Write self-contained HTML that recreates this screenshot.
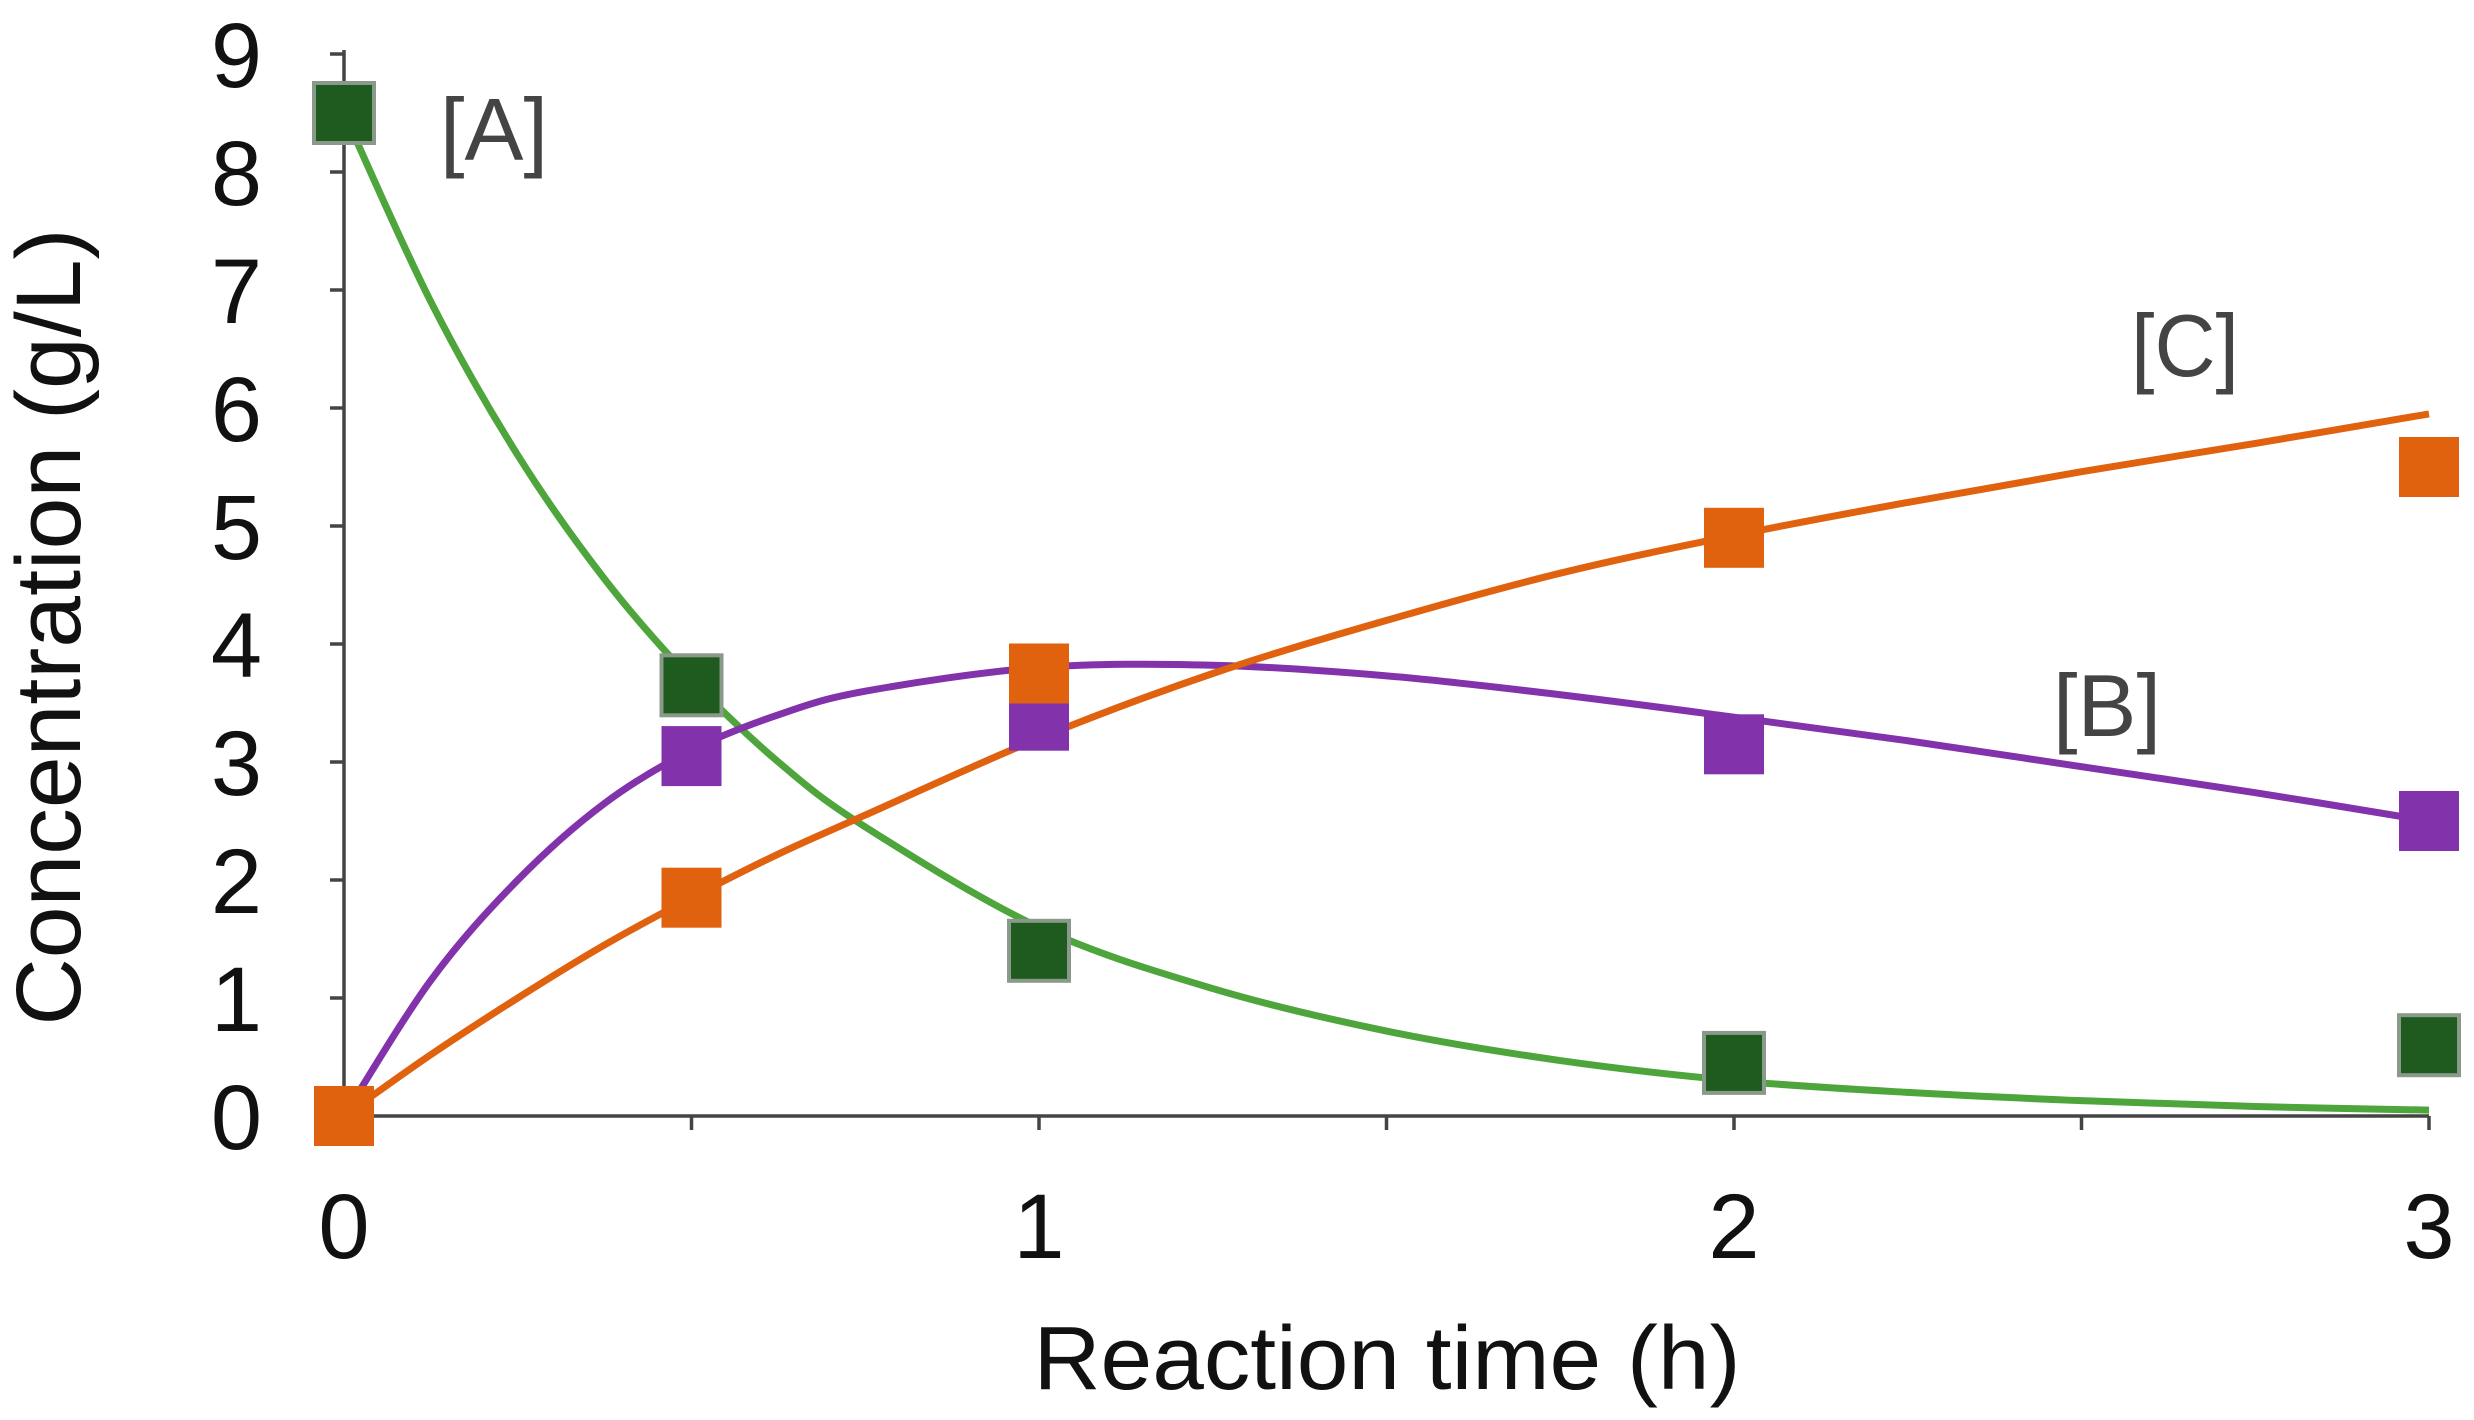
<!DOCTYPE html>
<html><head><meta charset="utf-8"><style>
html,body{margin:0;padding:0;background:#fff;}
svg{display:block;font-family:"Liberation Sans",sans-serif;}
</style></head><body>
<svg id="chart" width="2474" height="1420" viewBox="0 0 2474 1420" xmlns="http://www.w3.org/2000/svg">
<g id="axes"></g>
<g id="curves"></g>
<g id="markers"></g>
<text transform="translate(80,627) rotate(-90)" text-anchor="middle" font-size="92" textLength="797" lengthAdjust="spacingAndGlyphs" fill="#111">Concentration (g/L)</text>
<text x="1387" y="1389" text-anchor="middle" font-size="90" textLength="707" lengthAdjust="spacingAndGlyphs" fill="#111">Reaction time (h)</text>
<text x="440" y="160" font-size="88" textLength="108" lengthAdjust="spacingAndGlyphs" fill="#444">[A]</text>
<text x="2131" y="376" font-size="88" textLength="108" lengthAdjust="spacingAndGlyphs" fill="#444">[C]</text>
<text x="2053" y="736" font-size="88" textLength="108" lengthAdjust="spacingAndGlyphs" fill="#444">[B]</text>
</svg>
<script>
const times = [0, 0.5, 1, 2, 3];
const seriesA = [8.5, 3.65, 1.4, 0.45, 0.6];
const seriesB = [0, 3.05, 3.35, 3.15, 2.5];
const seriesC = [0, 1.85, 3.75, 4.9, 5.5];
const fitTimes = [0, 0.125, 0.25, 0.375, 0.5, 0.625, 0.75, 1, 1.25, 1.5, 1.75, 2, 2.25, 2.5, 2.75, 3];
const fitA = [8.5, 6.9, 5.6, 4.55, 3.7, 3.0, 2.45, 1.6, 1.08, 0.72, 0.47, 0.3, 0.2, 0.13, 0.08, 0.05];
const fitB = [0, 1.15, 2.0, 2.65, 3.1, 3.4, 3.6, 3.8, 3.82, 3.73, 3.57, 3.38, 3.18, 2.96, 2.74, 2.5];
const fitC = [0, 0.52, 1.0, 1.45, 1.85, 2.22, 2.55, 3.2, 3.75, 4.2, 4.6, 4.92, 5.2, 5.46, 5.7, 5.95];
const yTicks = [0,1,2,3,4,5,6,7,8,9];
const xTickLabels = [0,1,2,3];
const xMinor = [0.5,1,1.5,2,2.5,3];

const NS = "http://www.w3.org/2000/svg";
const X0 = 344, XU = 695, Y0 = 1116, YU = 118;
function sx(t){ return X0 + t*XU; }
function sy(v){ return Y0 - v*YU; }
function mk(tag, attrs, parent){
  const e = document.createElementNS(NS, tag);
  for (const k in attrs) e.setAttribute(k, attrs[k]);
  parent.appendChild(e);
  return e;
}
const axes = document.getElementById('axes');
const yl = mk('line', {x1:sx(0), y1:sy(9)-4, x2:sx(0), y2:Y0, stroke:'#444', 'stroke-width':3.5}, axes);


const xl = mk('line', {x1:sx(0), y1:Y0, x2:sx(3), y2:Y0, stroke:'#444', 'stroke-width':3.5}, axes);


yTicks.forEach(v => {
  const tk = mk('line', {x1:sx(0)-14, y1:sy(v), x2:sx(0), y2:sy(v), stroke:'#444', 'stroke-width':3.5}, axes);
  
  
  const tl = mk('text', {x:262, y:sy(v)+33, 'text-anchor':'end', 'font-size':92, fill:'#111'}, axes);
  tl.textContent = v;
  
  
});
xMinor.forEach(t => {
  const tk = mk('line', {x1:sx(t), y1:Y0, x2:sx(t), y2:Y0+14, stroke:'#444', 'stroke-width':3.5}, axes);
  
  
});
xTickLabels.forEach(t => {
  const tl = mk('text', {x:sx(t), y:1258, 'text-anchor':'middle', 'font-size':92, fill:'#111'}, axes);
  tl.textContent = t;
  
  
});
function smoothPath(xs, ys){
  const p = xs.map((t,i)=>[sx(t), sy(ys[i])]);
  let d = 'M' + p[0][0] + ',' + p[0][1];
  for (let i=0;i<p.length-1;i++){
    const p0 = p[i-1]||p[i], p1=p[i], p2=p[i+1], p3=p[i+2]||p2;
    const c1x = p1[0]+(p2[0]-p0[0])/6, c1y = p1[1]+(p2[1]-p0[1])/6;
    const c2x = p2[0]-(p3[0]-p1[0])/6, c2y = p2[1]-(p3[1]-p1[1])/6;
    d += ' C'+c1x+','+c1y+' '+c2x+','+c2y+' '+p2[0]+','+p2[1];
  }
  return d;
}
const curves = document.getElementById('curves');
const cA = mk('path', {d:smoothPath(fitTimes, fitA), fill:'none', stroke:'#4ea53c', 'stroke-width':7}, curves);


const cB = mk('path', {d:smoothPath(fitTimes, fitB), fill:'none', stroke:'#8232aa', 'stroke-width':7}, curves);


const cC = mk('path', {d:smoothPath(fitTimes, fitC), fill:'none', stroke:'#e0620f', 'stroke-width':7}, curves);


const markers = document.getElementById('markers');
const S = 60;
function drawMarkers(vals, fill, stroke, name){
  vals.forEach((v,i)=>{
    const r = mk('rect', {x:sx(times[i])-S/2, y:sy(v)-S/2, width:S, height:S, fill:fill, stroke:stroke, 'stroke-width':stroke==='none'?0:4}, markers);
    
    
  });
}
drawMarkers(seriesB, '#8232aa', 'none', 'marker-b');
drawMarkers(seriesA, '#1f5a1f', '#8a9a8a', 'marker-a');
drawMarkers(seriesC, '#e0620f', 'none', 'marker-c');
</script>
</body></html>
